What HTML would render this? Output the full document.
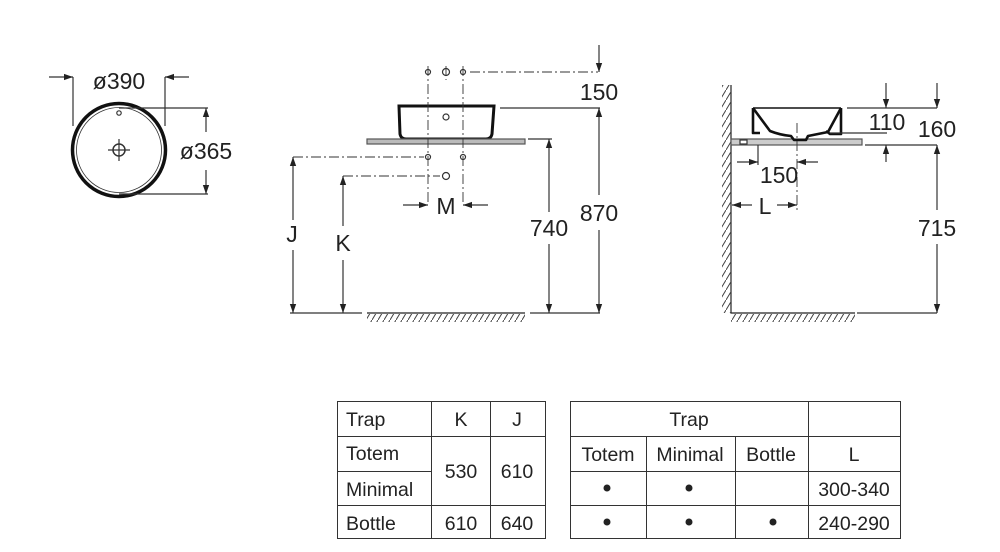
<!DOCTYPE html>
<html><head><meta charset="utf-8"><style>
html,body{margin:0;padding:0;background:#fff;}
svg{display:block;font-family:"Liberation Sans",sans-serif;}
</style></head><body>
<svg width="1000" height="552" viewBox="0 0 1000 552" xmlns="http://www.w3.org/2000/svg">
<defs>
<marker id="a" viewBox="0 0 10 10" refX="10" refY="5" markerWidth="9" markerHeight="9" orient="auto-start-reverse" markerUnits="userSpaceOnUse"><path d="M0,1.5 L10,5 L0,8.5 Z" fill="#222"/></marker>
<pattern id="h" width="6" height="10" patternUnits="userSpaceOnUse"><path d="M6,0 L0,10" stroke="#444" stroke-width="1"/></pattern>
</defs>
<g stroke="#333" stroke-width="1.2" fill="none">
<!-- top view -->
<circle cx="119" cy="150" r="46.5" stroke="#111" stroke-width="3.5"/>
<circle cx="119" cy="150" r="42.5" stroke-width="0.8"/>
<circle cx="119" cy="113" r="2.2"/>
<circle cx="119" cy="150" r="6" stroke-width="1.5"/>
<path d="M108,150 H130 M119,139 V161"/>
<path d="M73,77 V126 M165,77 V126"/>
<path d="M49,77 H73" marker-end="url(#a)"/>
<path d="M189,77 H165" marker-end="url(#a)"/>
<path d="M119,108 H208 M119,194 H208"/>
<path d="M206,132 V108" marker-end="url(#a)"/>
<path d="M206,170 V194" marker-end="url(#a)"/>
<!-- front view -->
<path d="M399,106 H494 L492,134 Q491,139 486,139 H406 Q401,139 400,134 Z" stroke="#111" stroke-width="3"/>
<circle cx="446" cy="117" r="3"/>
<rect x="367" y="139" width="158" height="5" fill="#bbb" stroke="#555"/>
<path d="M428,66 V205 M463,66 V205 M446,66 V80" stroke-dasharray="10,3,2,3" stroke-width="0.9"/>
<path d="M470,72 H598 M293,157 H424 M343,176 H440" stroke-dasharray="10,3,2,3" stroke-width="0.9"/>
<g stroke-width="1.2">
<circle cx="428" cy="72" r="2.5"/><circle cx="446" cy="72" r="3.5"/><circle cx="463" cy="72" r="2.5"/>
<circle cx="428" cy="157" r="2.5"/><circle cx="463" cy="157" r="2.5"/><circle cx="446" cy="176" r="3.5"/>
</g>
<path d="M403,205 H428" marker-end="url(#a)"/>
<path d="M488,205 H463" marker-end="url(#a)"/>
<path d="M599,45 V72" marker-end="url(#a)"/>
<path d="M500,108 H600 M528,139 H552"/>
<path d="M293,220 V157" marker-end="url(#a)"/><path d="M293,250 V313" marker-end="url(#a)"/>
<path d="M343,226 V176" marker-end="url(#a)"/><path d="M343,260 V313" marker-end="url(#a)"/>
<path d="M549,212 V139" marker-end="url(#a)"/><path d="M549,244 V313" marker-end="url(#a)"/>
<path d="M599,195 V108" marker-end="url(#a)"/><path d="M599,230 V313" marker-end="url(#a)"/>
<path d="M290,313 H362 M530,313 H600"/>
<path d="M367,313 H525" stroke="#222"/>
<rect x="367" y="314" width="158" height="8" fill="url(#h)" stroke="none"/>
<!-- side view -->
<path d="M731,85 V313 H855" stroke="#222"/>
<rect x="722" y="85" width="9" height="228" fill="url(#h)" stroke="none"/>
<rect x="731" y="314" width="124" height="8" fill="url(#h)" stroke="none"/>
<path d="M857,313 H937"/>
<rect x="731" y="139" width="131" height="6" fill="#ccc" stroke="#555"/>
<rect x="740" y="140" width="7" height="4" fill="#fff"/>
<g stroke="#111" stroke-width="2.6" stroke-linejoin="round">
<path d="M753,108 V133 H760"/>
<path d="M753,108 H841" stroke-width="1.5"/>
<path d="M753,108 L770,131 Q780,135 791,136 L794,140 H806 L808,136 Q818,134 828,132 L841,108"/>
<path d="M841,108 V134 H830 L826,131"/>
</g>
<path d="M847,108 H937 M830,133 H887 M865,145 H937"/>
<path d="M886,83 V108" marker-end="url(#a)"/>
<path d="M937,83 V108" marker-end="url(#a)"/>
<path d="M886,162 V145" marker-end="url(#a)"/>
<path d="M937,210 V145" marker-end="url(#a)"/><path d="M937,244 V313" marker-end="url(#a)"/>
<path d="M758,145 V165"/>
<path d="M797,123 V210" stroke-dasharray="10,3,2,3" stroke-width="0.9"/>
<path d="M737,162 H758" marker-end="url(#a)"/>
<path d="M818,162 H797" marker-end="url(#a)"/>
<path d="M752,205 H732" marker-end="url(#a)"/>
<path d="M777,205 H797" marker-end="url(#a)"/>
</g>
<g fill="#222" font-size="23" text-anchor="middle">
<text x="119" y="89">ø390</text>
<text x="206" y="159">ø365</text>
<text x="599" y="100">150</text>
<text x="446" y="214">M</text>
<text x="292" y="242">J</text>
<text x="343" y="251">K</text>
<text x="549" y="236">740</text>
<text x="599" y="221">870</text>
<text x="887" y="130">110</text>
<text x="937" y="137">160</text>
<text x="779" y="183">150</text>
<text x="765" y="214">L</text>
<text x="937" y="236">715</text>
</g>
<!-- tables -->
<g stroke="#333" stroke-width="1" fill="none">
<rect x="337.5" y="401.5" width="208" height="137"/>
<path d="M431.5,401.5 V538.5 M490.5,401.5 V538.5 M337.5,436.5 H545.5 M337.5,471.5 H431.5 M337.5,505.5 H545.5"/>
<rect x="570.5" y="401.5" width="330" height="137"/>
<path d="M808.5,401.5 V538.5 M646.5,436.5 V538.5 M735.5,436.5 V538.5 M570.5,436.5 H900.5 M570.5,471.5 H900.5 M570.5,505.5 H900.5"/>
</g>
<g fill="#222" font-size="19.5">
<text x="346" y="426">Trap</text>
<text x="346" y="460">Totem</text>
<text x="346" y="496">Minimal</text>
<text x="346" y="530">Bottle</text>
<g text-anchor="middle">
<text x="461" y="426">K</text><text x="517" y="426">J</text>
<text x="461" y="478">530</text><text x="517" y="478">610</text>
<text x="461" y="530">610</text><text x="517" y="530">640</text>
<text x="689" y="426">Trap</text>
<text x="608" y="461">Totem</text><text x="690" y="461">Minimal</text><text x="771" y="461">Bottle</text><text x="854" y="461">L</text>
<text x="854" y="496">300-340</text><text x="854" y="530">240-290</text>
</g>
<circle cx="607" cy="488" r="3.5"/><circle cx="689" cy="488" r="3.5"/>
<circle cx="607" cy="522" r="3.5"/><circle cx="689" cy="522" r="3.5"/><circle cx="773" cy="522" r="3.5"/>
</g>
</svg>
</body></html>
